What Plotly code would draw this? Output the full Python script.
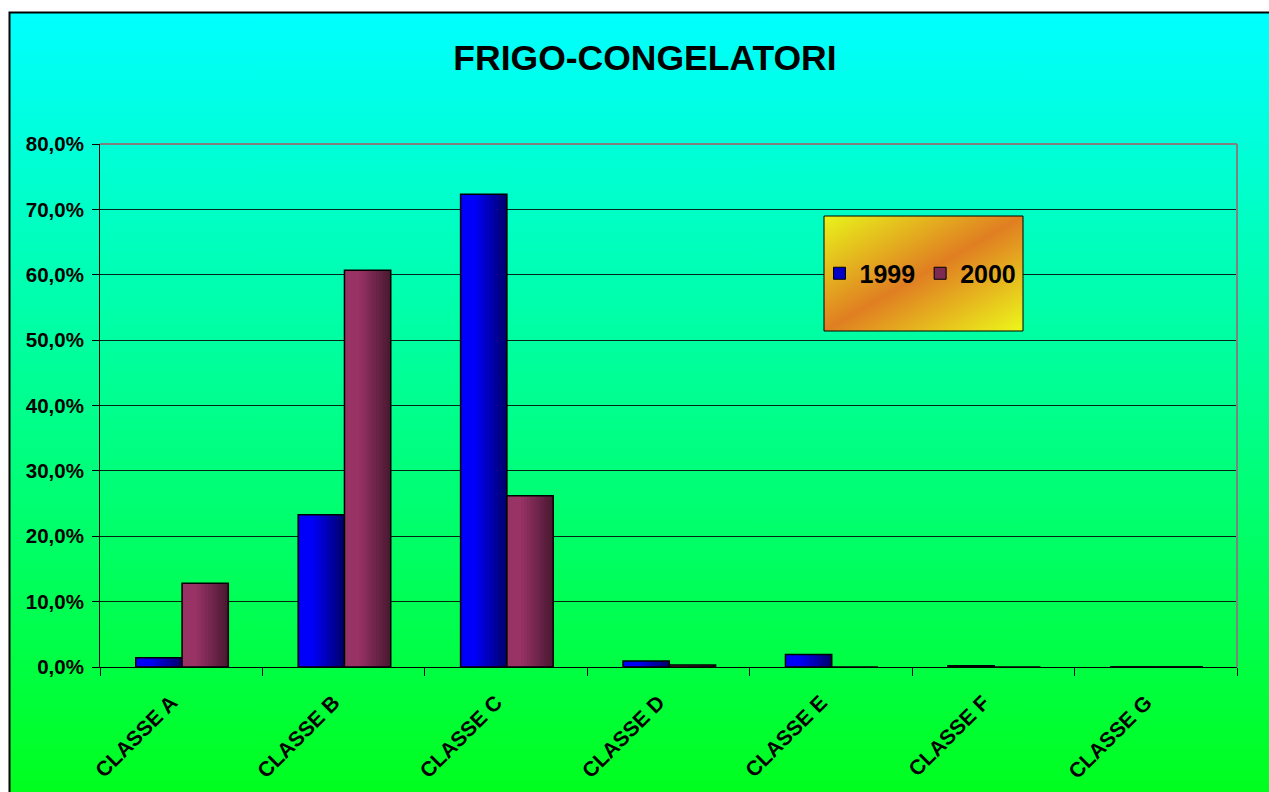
import base64
import plotly.graph_objects as go

# ---------------- data ----------------
categories = ["CLASSE A", "CLASSE B", "CLASSE C", "CLASSE D", "CLASSE E", "CLASSE F", "CLASSE G"]
pct_1999 = [1.4, 23.3, 72.3, 0.9, 1.9, 0.2, 0.0]
pct_2000 = [12.8, 60.7, 26.2, 0.3, 0.0, 0.0, 0.0]
series_names = ["1999", "2000"]
y_tick_values = [0, 10, 20, 30, 40, 50, 60, 70, 80]
title_text = "FRIGO-CONGELATORI"

# ---------------- layout geometry (page pixels) ----------------
W, H = 1269, 792
PL, PR, PT, PB = 100, 1237, 144, 667          # plot area in page pixels
ML, MT = PL, PT
MR, MB = W - PR, H - PB
PW, PH = PR - PL, PB - PT


def px_x(x):
    return (x - PL) / PW


def px_y(y):
    return (PB - y) / PH


def svg_uri(svg):
    return "data:image/svg+xml;base64," + base64.b64encode(svg.encode()).decode()


def mix(c1, c2, t):
    return tuple(round(a + (b - a) * t) for a, b in zip(c1, c2))


def grad_color(bright, dark, t, hold=0.3):
    if t <= hold:
        c = bright
    else:
        c = mix(bright, dark, (t - hold) / (1 - hold))
    return "rgb(%d,%d,%d)" % c


FONT = "Liberation Sans, Arial, sans-serif"

bg_svg = (
    '<svg xmlns="http://www.w3.org/2000/svg" width="100" height="100" viewBox="0 0 100 100" '
    'preserveAspectRatio="none"><defs><linearGradient id="g" x1="0" y1="0" x2="0" y2="1">'
    '<stop offset="0" stop-color="#00FFFF"/><stop offset="1" stop-color="#00FF10"/>'
    '</linearGradient></defs><rect width="100" height="100" fill="url(#g)"/></svg>'
)
legend_svg = (
    '<svg xmlns="http://www.w3.org/2000/svg" width="100" height="100" viewBox="0 0 100 100" '
    'preserveAspectRatio="none"><defs><linearGradient id="g" x1="0" y1="0" x2="1" y2="1">'
    '<stop offset="0" stop-color="#E8F41A"/><stop offset="0.5" stop-color="#E07E22"/>'
    '<stop offset="1" stop-color="#ECF81A"/></linearGradient></defs>'
    '<rect width="100" height="100" fill="url(#g)"/></svg>'
)

series = [
    dict(name=series_names[0], vals=pct_1999, offset=-0.28, bright=(0, 0, 250), dark=(0, 0, 105)),
    dict(name=series_names[1], vals=pct_2000, offset=0.005, bright=(153, 51, 102), dark=(72, 24, 48)),
]
BW = 0.285
NSLICE = 16

fig = go.Figure()
for s in series:
    yv = [v / 100 for v in s["vals"]]
    for k in range(NSLICE):
        f = k / NSLICE
        fig.add_trace(go.Bar(
            x=categories, y=yv, width=BW * (1 - f), offset=s["offset"] + BW * f,
            marker=dict(color=grad_color(s["bright"], s["dark"], (k + 0.5) / NSLICE),
                        line=dict(width=0)),
            showlegend=False, hoverinfo="skip",
        ))
    fig.add_trace(go.Bar(
        x=categories, y=yv, width=BW, offset=s["offset"],
        marker=dict(color="rgba(0,0,0,0)", line=dict(color="black", width=1.5)),
        showlegend=False, name=s["name"],
    ))

# legend-only entries (zero-height bar on the last, empty category)
for s in series:
    fig.add_trace(go.Bar(
        x=[categories[-1]], y=[0], width=BW, offset=s["offset"], name=s["name"],
        marker=dict(color="rgb(%d,%d,%d)" % mix(s["bright"], s["dark"], 0.35),
                    line=dict(color="black", width=1)),
        hoverinfo="skip",
    ))

# legend box position (paper)
lx0, lx1 = px_x(824), px_x(1023)
ly0, ly1 = px_y(331), px_y(216)

fig.update_layout(
    width=W, height=H,
    margin=dict(l=ML, r=MR, t=MT, b=MB, pad=0),
    barmode="overlay",
    separators=",.",
    paper_bgcolor="white",
    plot_bgcolor="rgba(0,0,0,0)",
    title=dict(text=title_text, x=px_x(645), xref="paper", xanchor="center",
               y=1 - 58 / H, yref="container", yanchor="middle",
               font=dict(family=FONT, size=35.5, color="black", weight="bold")),
    xaxis=dict(type="category", range=[-0.5, 6.5], tickson="boundaries",
               ticks="outside", ticklen=8, tickcolor="black", tickwidth=1,
               showline=True, linecolor="black", linewidth=1,
               showgrid=False, tickangle=-45, automargin=False,
               ticklabelstandoff=14, ticklabelshift=-10,
               tickfont=dict(family=FONT, size=21, color="black", weight="bold")),
    yaxis=dict(range=[0, 0.8], tickvals=[v / 100 for v in y_tick_values], tickformat=".1%",
               ticks="outside", ticklen=7, tickcolor="black", tickwidth=1,
               showline=True, linecolor="black", linewidth=1, automargin=False,
               showgrid=True, gridcolor="rgba(0,0,0,0.85)", gridwidth=1, zeroline=False,
               ticklabelstandoff=4,
               tickfont=dict(family=FONT, size=20.5, color="black", weight="bold")),
    legend=dict(orientation="h", x=(lx0 + lx1) / 2 - 3 / PW, y=(ly0 + ly1) / 2,
                xanchor="center", yanchor="middle", bgcolor="rgba(0,0,0,0)",
                borderwidth=0, traceorder="normal",
                font=dict(family=FONT, size=25, color="black", weight="bold")),
    images=[
        dict(source=svg_uri(bg_svg), xref="paper", yref="paper",
             x=px_x(9.5), y=px_y(12.5), sizex=px_x(1320) - px_x(9.5),
             sizey=px_y(12.5) - px_y(840), xanchor="left", yanchor="top",
             sizing="stretch", layer="below"),
        dict(source=svg_uri(legend_svg), xref="paper", yref="paper",
             x=lx0, y=ly1, sizex=lx1 - lx0, sizey=ly1 - ly0,
             xanchor="left", yanchor="top", sizing="stretch", layer="above"),
    ],
    shapes=[
        dict(type="rect", xref="paper", yref="paper", x0=px_x(9.5), x1=px_x(1320),
             y0=px_y(840), y1=px_y(12.5), line=dict(color="black", width=2), layer="above"),
        dict(type="line", xref="paper", yref="paper", x0=0, x1=1, y0=1, y1=1,
             line=dict(color="#808080", width=2), layer="above"),
        dict(type="line", xref="paper", yref="paper", x0=1, x1=1, y0=0, y1=1,
             line=dict(color="#808080", width=2), layer="above"),
        dict(type="rect", xref="paper", yref="paper", x0=lx0, x1=lx1, y0=ly0, y1=ly1,
             line=dict(color="black", width=1), layer="above"),
    ],
)

fig.write_html(
    "out.html",
    config={"displayModeBar": False},
    post_script="document.body.style.margin='0';document.body.style.overflow='hidden';",
)
